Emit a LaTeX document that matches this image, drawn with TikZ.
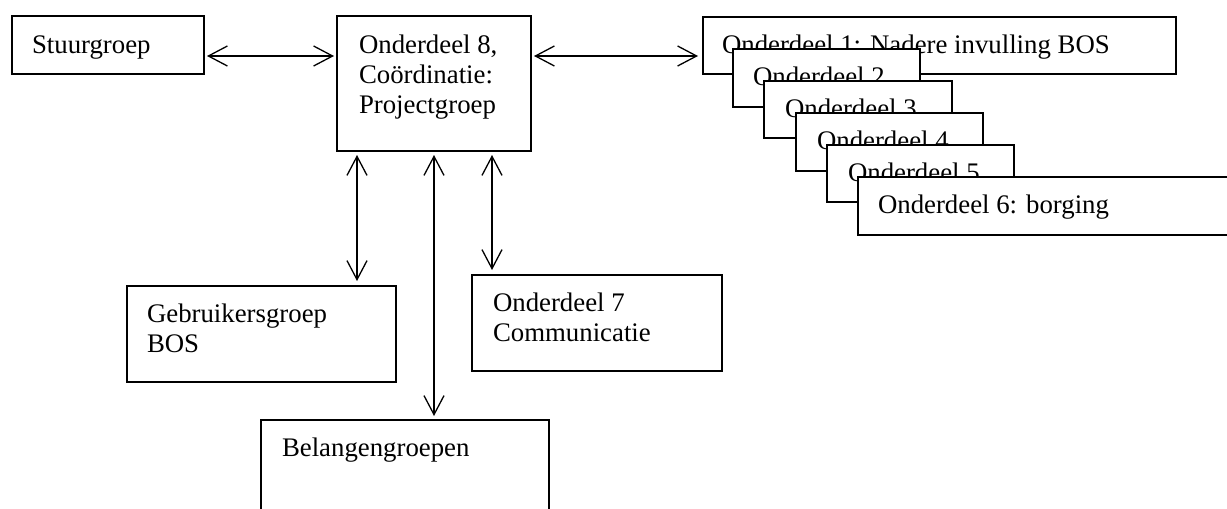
\documentclass[tikz,border=0pt]{standalone}
\usepackage{fontspec}
\setmainfont{Liberation Serif}
\usetikzlibrary{arrows.meta}
\begin{document}
\begin{tikzpicture}[x=1pt,y=-1pt,
  box/.style={draw=black, fill=white, line width=1.9pt, inner sep=0pt, outer sep=0pt, anchor=north west},
  lbl/.style={inner sep=0pt, outer sep=0pt, anchor=base west, align=left, font=\fontsize{26.8}{30}\selectfont},
  arr/.style={line width=1.3pt, {Straight Barb[length=19pt,width=20pt]}-{Straight Barb[length=19pt,width=20pt]}}]
\useasboundingbox (0,0) rectangle (1227,509);
\clip (0,0) rectangle (1227,509);
\fill[white] (0,0) rectangle (1227,509);
% left / centre boxes
\node[box, minimum width=192pt, minimum height=58pt] (stuur) at (12,16) {};
\node[lbl] (tstuur) at (32,53) {Stuurgroep};
\node[box, minimum width=194pt, minimum height=135pt] (o8) at (337,16) {};
\node[lbl] (to8) at (359,113) {Onderdeel 8,\\Coördinatie:\\Projectgroep};
\node[box, minimum width=269pt, minimum height=96pt] (gebr) at (127,286) {};
\node[lbl] (tgebr) at (147,352) {Gebruikersgroep\\BOS};
\node[box, minimum width=250pt, minimum height=96pt] (o7) at (472,275) {};
\node[lbl] (to7) at (493,341) {Onderdeel 7\\Communicatie};
\node[box, minimum width=288pt, minimum height=120pt] (bel) at (261,420) {};
\node[lbl] (tbel) at (282,456) {Belangengroepen};
% stacked boxes
\node[box, minimum width=473pt, minimum height=57pt] (o1) at (703,17) {};
\node[lbl] (to1) at (722,53) {Onderdeel 1: Nadere invulling BOS};
\node[box, minimum width=187pt, minimum height=58pt] (o2) at (733,49) {};
\node[lbl] (to2) at (753,85) {Onderdeel 2};
\node[box, minimum width=188pt, minimum height=57pt] (o3) at (764,81) {};
\node[lbl] (to3) at (785,117) {Onderdeel 3};
\node[box, minimum width=187pt, minimum height=58pt] (o4) at (796,113) {};
\node[lbl] (to4) at (817,149) {Onderdeel 4};
\node[box, minimum width=187pt, minimum height=57pt] (o5) at (827,145) {};
\node[lbl] (to5) at (848,181) {Onderdeel 5};
\node[box, minimum width=380pt, minimum height=58pt] (o6) at (858,177) {};
\node[lbl] (to6) at (878,213) {Onderdeel 6: borging};
% connectors
\coordinate (row) at (0,56);
\coordinate (c1) at (357,0);
\coordinate (c2) at (434,0);
\coordinate (c3) at (492,0);
\draw[arr, shorten <=3pt, shorten >=3pt] (stuur.east |- row) -- (o8.west |- row);
\draw[arr, shorten <=3pt, shorten >=5pt] (o8.east |- row) -- (o1.west |- row);
\draw[arr, shorten <=4pt, shorten >=5pt] (o8.south -| c1) -- (gebr.north -| c1);
\draw[arr, shorten <=4pt, shorten >=4pt] (o8.south -| c2) -- (bel.north -| c2);
\draw[arr, shorten <=4pt, shorten >=5pt] (o8.south -| c3) -- (o7.north -| c3);
\end{tikzpicture}
\end{document}
